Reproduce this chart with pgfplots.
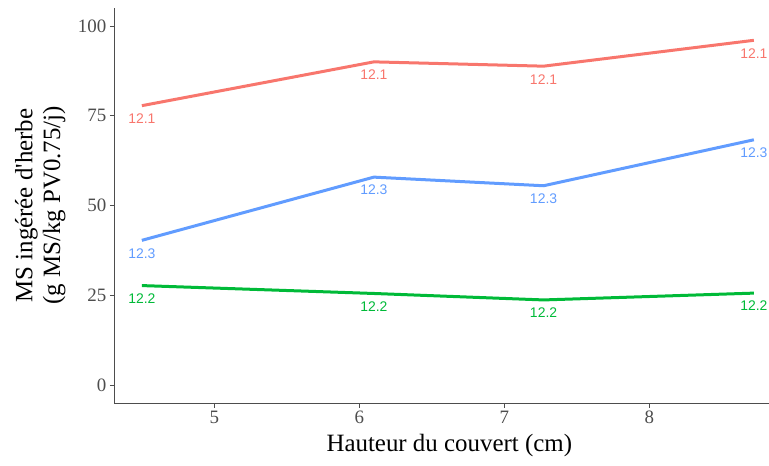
\documentclass[border=0pt]{standalone}
\usepackage{fontspec}
\setmainfont{Liberation Serif}
\newfontfamily\labelfont{Liberation Sans}
\usepackage{pgfplots}
\pgfplotsset{compat=1.18}
\definecolor{cred}{HTML}{F8766D}
\definecolor{cgreen}{HTML}{00BA38}
\definecolor{cblue}{HTML}{619CFF}
\definecolor{axgray}{HTML}{4D4D4D}
\begin{document}
\begin{tikzpicture}
\begin{axis}[
  anchor=south west, at={(0,0)},
  scale only axis, width=670bp, height=395bp,
  xmin=4.31, xmax=8.93, ymin=-5, ymax=105,
  axis x line*=bottom, axis y line*=left,
  xtick={5,6,7,8}, ytick={0,25,50,75,100},
  tick align=outside, major tick length=4.5bp,
  tick style={axgray, line width=0.8bp},
  axis line style={axgray, line width=0.8bp},
  /pgf/number format/assume math mode=true,
  ticklabel style={font=\fontsize{19}{22}\selectfont, text=axgray},
  xlabel={Hauteur du couvert (cm)},
  ylabel={MS ingérée d\textquotesingle herbe\\(g MS/kg PV0.75/j)},
  xlabel style={font=\fontsize{25}{28}\selectfont, at={(axis description cs:0.5,0)}, anchor=base, yshift=-48bp},
  ylabel style={font=\fontsize{25}{28}\selectfont, align=center, at={(axis description cs:-0.1105,0.5)}, anchor=center},
  clip=false,
  every node near coord/.style={font=\labelfont\fontsize{14}{15}\selectfont, anchor=center, yshift=-13bp},
]
\addplot[cred, line width=3bp, nodes near coords={12.1}, every node near coord/.append style={text=cred}] coordinates {(4.5,77.8) (6.1,90.0) (7.27,88.8) (8.72,96.0)};
\addplot[cblue, line width=3bp, nodes near coords={12.3}, every node near coord/.append style={text=cblue}] coordinates {(4.5,40.3) (6.1,57.9) (7.27,55.5) (8.72,68.3)};
\addplot[cgreen, line width=3bp, nodes near coords={12.2}, every node near coord/.append style={text=cgreen}] coordinates {(4.5,27.7) (6.1,25.5) (7.27,23.7) (8.72,25.6)};
\end{axis}
\pgfresetboundingbox
\useasboundingbox (-114.3bp,-63bp) rectangle (654.7bp,403bp);
\end{tikzpicture}
\end{document}
